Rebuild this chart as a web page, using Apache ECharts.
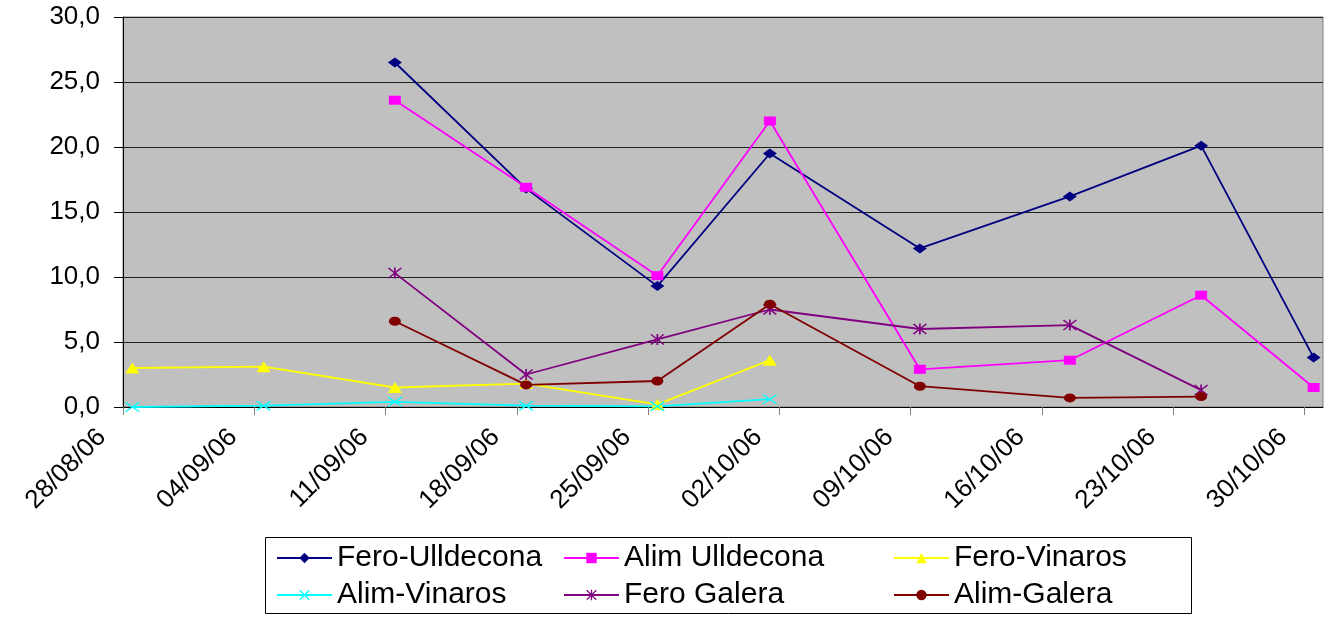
<!DOCTYPE html>
<html>
<head>
<meta charset="utf-8">
<script src="https://cdn.jsdelivr.net/npm/echarts@6/dist/echarts.min.js"></script>
<style>
html,body{margin:0;padding:0;background:#fff;}
#chart{width:1332px;height:617px;}
</style>
</head>
<body>
<div id="chart"></div>
<script>
// ---- data ----
var xTickLabels = ["28/08/06","04/09/06","11/09/06","18/09/06","25/09/06","02/10/06","09/10/06","16/10/06","23/10/06","30/10/06"];
var yTickLabels = ["0,0","5,0","10,0","15,0","20,0","25,0","30,0"];
var sampleDates = ["28/08/06","04/09/06","11/09/06","18/09/06","25/09/06","01/10/06","09/10/06","17/10/06","24/10/06","30/10/06"];
var feroUlldecona = [null, null, 26.5, 16.8, 9.3, 19.5, 12.2, 16.2, 20.1, 3.8];
var alimUlldecona = [null, null, 23.6, 16.9, 10.1, 22.0, 2.9, 3.6, 8.6, 1.5];
var feroVinaros   = [3.0, 3.1, 1.5, 1.8, 0.2, 3.6, null, null, null, null];
var alimVinaros   = [0.0, 0.1, 0.4, 0.1, 0.05, 0.6, null, null, null, null];
var feroGalera    = [null, null, 10.3, 2.5, 5.2, 7.5, 6.0, 6.3, 1.3, null];
var alimGalera    = [null, null, 6.6, 1.7, 2.0, 7.9, 1.6, 0.7, 0.8, null];
var seriesNames = ["Fero-Ulldecona","Alim Ulldecona","Fero-Vinaros","Alim-Vinaros","Fero Galera","Alim-Galera"];

// ---- helpers ----
function parseDate(s){var p=s.split('/');return Date.UTC(2000+(+p[2]),(+p[1])-1,+p[0]);}
var DAY=86400000;
var t0=parseDate(xTickLabels[0]);
function dayIndex(s){return Math.round((parseDate(s)-t0)/DAY);}
var tickDays=xTickLabels.map(dayIndex);
var labelByDay={};
xTickLabels.forEach(function(l,i){labelByDay[tickDays[i]]=l;});
function build(vals){
  var out=[];
  vals.forEach(function(v,i){ if(v!==null){ out.push([dayIndex(sampleDates[i])+0.5, v]); } });
  return out;
}
var FONT='"Liberation Sans", Arial, sans-serif';
var xSym='path://M0,0.8L0.8,0L10,9.2L9.2,10ZM9.2,0L10,0.8L0.8,10L0,9.2Z';
var starSym='path://M0,0.8L0.8,0L10,9.2L9.2,10ZM9.2,0L10,0.8L0.8,10L0,9.2ZM4.4,0L5.6,0L5.6,10L4.4,10Z';

var styles=[
  {data:feroUlldecona,color:'#000080',symbol:'diamond',size:[14,10]},
  {data:alimUlldecona,color:'#FF00FF',symbol:'rect',size:[12,9]},
  {data:feroVinaros,color:'#FFFF00',symbol:'triangle',size:[14,11]},
  {data:alimVinaros,color:'#00FFFF',symbol:xSym,size:[15,10]},
  {data:feroGalera,color:'#800080',symbol:starSym,size:[14,11]},
  {data:alimGalera,color:'#800000',symbol:'circle',size:[12,9]}
];
var series=styles.map(function(s,i){
  return {
    name:seriesNames[i], type:'line', data:build(s.data),
    symbol:s.symbol, symbolSize:s.size, showAllSymbol:true,
    lineStyle:{color:s.color,width:1.8},
    itemStyle:{color:s.color},
    emphasis:{disabled:true}, animation:false
  };
});

function legendAt(left, names){
  return {
    orient:'vertical', left:left, top:542, padding:0, itemGap:5,
    itemWidth:55, itemHeight:13, selectedMode:false,
    data:names,
    textStyle:{fontFamily:FONT,fontSize:30,color:'#000',lineHeight:32}
  };
}

var chart=echarts.init(document.getElementById('chart'),null,{renderer:'canvas'});
chart.setOption({
  animation:false,
  backgroundColor:'#fff',
  grid:{left:123,right:9,top:17,bottom:210,show:true,backgroundColor:'#C0C0C0',borderColor:'#808080',borderWidth:1},
  xAxis:{
    type:'value', min:0, max:64,
    axisLine:{show:true,onZero:false,lineStyle:{color:'#000',width:1}},
    axisTick:{show:true,length:8,lineStyle:{color:'#808080'},customValues:tickDays},
    splitLine:{show:false},
    axisLabel:{
      customValues:tickDays, rotate:45, margin:5, padding:[0,30,0,0],
      fontFamily:FONT,fontSize:26,color:'#000',
      formatter:function(v){return labelByDay[Math.round(v)]||'';}
    }
  },
  yAxis:{
    type:'value', min:0, max:30, interval:5,
    axisLine:{show:true,lineStyle:{color:'#000',width:1}},
    axisTick:{show:true,length:9,lineStyle:{color:'#000'}},
    splitLine:{show:true,lineStyle:{color:'#202020',width:1}},
    axisLabel:{margin:23,fontFamily:FONT,fontSize:26,color:'#000',
      formatter:function(v){return yTickLabels[Math.round(v/5)];}}
  },
  legend:[
    legendAt(276,[seriesNames[0],seriesNames[3]]),
    legendAt(563,[seriesNames[1],seriesNames[4]]),
    legendAt(893,[seriesNames[2],seriesNames[5]])
  ],
  graphic:[{type:'rect',left:265,top:537,z:-1,shape:{width:926,height:76},style:{fill:'#fff',stroke:'#000',lineWidth:1}}],
  series:series
});
</script>
</body>
</html>
